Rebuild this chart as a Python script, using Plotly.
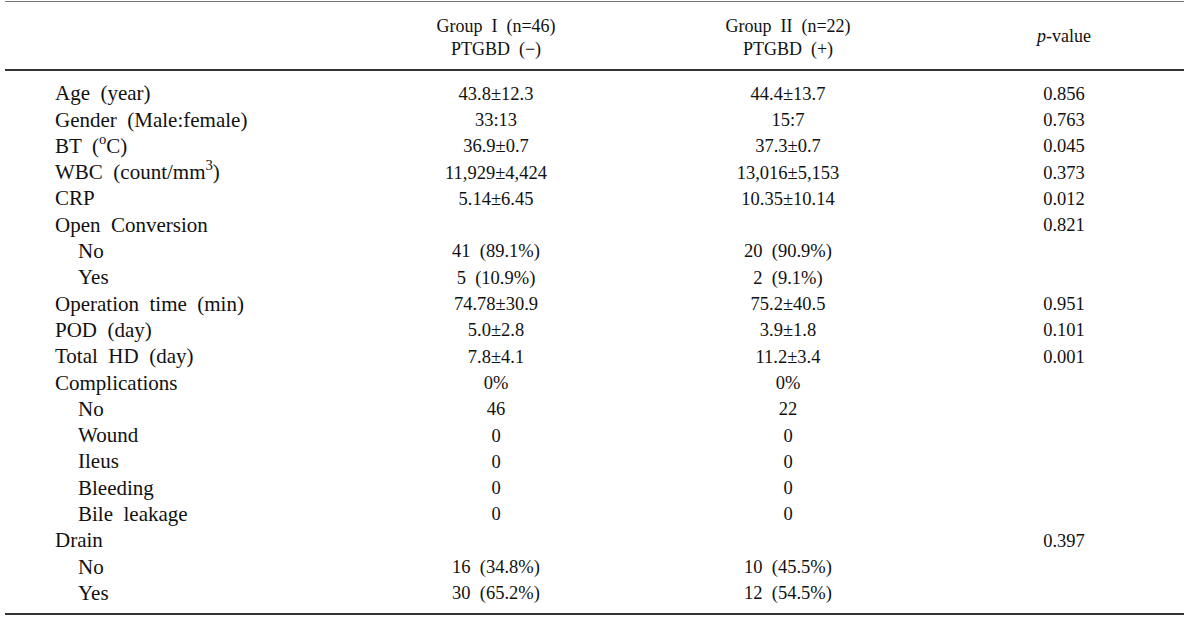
import plotly.graph_objects as go

NB = "\u00a0"

def sp(s):
    # keep the wide double spacing of the original typesetting
    return s.replace("  ", " " + NB)

labels = ["Age  (year)", "Gender  (Male:female)", "BT  (<sup>o</sup>C)",
          "WBC  (count/mm<sup>3</sup>)", "CRP", "Open  Conversion", "No", "Yes",
          "Operation  time  (min)", "POD  (day)", "Total  HD  (day)", "Complications",
          "No", "Wound", "Ileus", "Bleeding", "Bile  leakage", "Drain", "No", "Yes"]
indent = [0, 0, 0, 0, 0, 0, 1, 1, 0, 0, 0, 0, 1, 1, 1, 1, 1, 0, 1, 1]
group1 = ["43.8±12.3", "33:13", "36.9±0.7", "11,929±4,424", "5.14±6.45", "",
          "41  (89.1%)", "5  (10.9%)", "74.78±30.9", "5.0±2.8", "7.8±4.1", "0%",
          "46", "0", "0", "0", "0", "", "16  (34.8%)", "30  (65.2%)"]
group2 = ["44.4±13.7", "15:7", "37.3±0.7", "13,016±5,153", "10.35±10.14", "",
          "20  (90.9%)", "2  (9.1%)", "75.2±40.5", "3.9±1.8", "11.2±3.4", "0%",
          "22", "0", "0", "0", "0", "", "10  (45.5%)", "12  (54.5%)"]
pvals = ["0.856", "0.763", "0.045", "0.373", "0.012", "0.821", "", "", "0.951",
         "0.101", "0.001", "", "", "", "", "", "", "0.397", "", ""]
group_headers = ["Group  I  (n=46)<br>PTGBD  (−)", "Group  II  (n=22)<br>PTGBD  (+)"]
p_header = "<i>p</i>-value"

# layout geometry (pixels)
W, H = 1200, 618
ROW0, STEP = 95.0, 26.3
LABEL_X, INDENT = 55, 23
COL_X = [496, 788, 1064]
FAMILY = "Liberation Serif, Times New Roman, serif"
HFONT = dict(family=FAMILY, size=18, color="#111111")
FONT = dict(family=FAMILY, size=18.5, color="#111111")
LFONT = dict(family=FAMILY, size=21, color="#111111")

n = len(labels)
to_row = lambda p: (p - ROW0) / STEP

fig = go.Figure()
fig.add_trace(go.Scatter(
    x=[LABEL_X + INDENT * k for k in indent], y=list(range(n)), mode="text",
    text=[sp(s) for s in labels], textposition="middle right",
    textfont=LFONT, hoverinfo="skip", showlegend=False))
for cx, col in zip(COL_X, [group1, group2, pvals]):
    idx = [i for i, s in enumerate(col) if s]
    fig.add_trace(go.Scatter(
        x=[cx] * len(idx), y=idx, mode="text", text=[sp(col[i]) for i in idx],
        textposition="middle center", textfont=FONT,
        hoverinfo="skip", showlegend=False))
# headers
fig.add_trace(go.Scatter(
    x=COL_X[:2], y=[to_row(39)] * 2, mode="text", text=[sp(h) for h in group_headers],
    textposition="middle center", textfont=HFONT,
    hoverinfo="skip", showlegend=False))
fig.add_trace(go.Scatter(
    x=[COL_X[2]], y=[to_row(37)], mode="text", text=[p_header],
    textposition="middle center", textfont=HFONT,
    hoverinfo="skip", showlegend=False))

# rules
for p, w, c in [(1.5, 1.2, "#777777"), (70, 1.8, "#333333"), (614, 1.8, "#333333")]:
    fig.add_shape(type="line", xref="x", yref="y", x0=5, x1=1184,
                  y0=to_row(p), y1=to_row(p), line=dict(color=c, width=w))

fig.update_xaxes(range=[0, W], visible=False, fixedrange=True)
fig.update_yaxes(range=[to_row(H), to_row(0)], visible=False, fixedrange=True)
fig.update_layout(width=W, height=H, margin=dict(l=0, r=0, t=0, b=0),
                  paper_bgcolor="white", plot_bgcolor="white")
fig.write_html("out.html", config={"displayModeBar": False},
               post_script="document.body.style.margin='0';")
